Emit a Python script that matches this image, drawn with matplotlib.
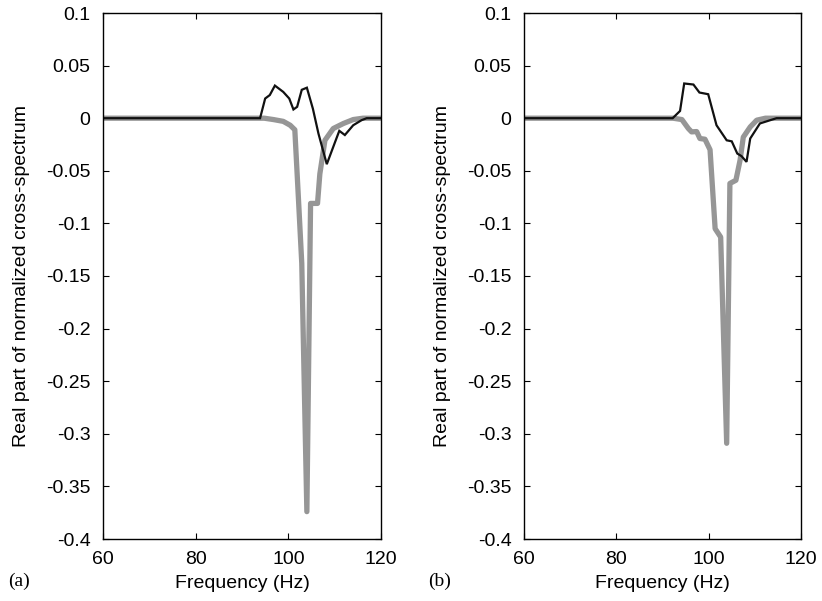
import numpy as np
import matplotlib
matplotlib.use("Agg")
import matplotlib.pyplot as plt

plt.rcParams['font.family'] = ['Liberation Sans', 'DejaVu Sans']

# panel (a)
fa_black = [60, 93.9, 95.0, 96.0, 97.1, 98.9, 100.2, 101.1, 101.9, 102.9, 104.0,
            105.3, 106.5, 108.3, 110.1, 111.0, 112.2, 114.0, 115.8, 116.9, 120]
va_black = [0, 0, 0.0187, 0.022, 0.031, 0.025, 0.0187, 0.0083, 0.0108, 0.027, 0.029,
            0.009, -0.0146, -0.0437, -0.0225, -0.012, -0.016, -0.0067, -0.0019, 0, 0]
fa_gray = [60, 94.8, 96.8, 98.9, 100.4, 101.4, 102.2, 102.9, 104.0,
           104.8, 106.3, 106.8, 107.9, 109.7, 111.9, 114.0, 116.1, 120]
va_gray = [0, 0, -0.0013, -0.003, -0.0067, -0.011, -0.078, -0.138, -0.374,
           -0.081, -0.081, -0.053, -0.021, -0.0098, -0.005, -0.0013, 0, 0]

# panel (b)
fb_black = [60, 92.2, 93.8, 94.7, 96.7, 98.0, 99.9, 101.7, 103.9, 105.0, 106.2,
            107.1, 108.2, 109.0, 111.1, 114.7, 120]
vb_black = [0, 0, 0.0069, 0.033, 0.032, 0.0244, 0.0228, -0.0067, -0.021, -0.022, -0.0336,
            -0.036, -0.0415, -0.0193, -0.005, 0, 0]
fb_gray = [60, 92.3, 94.2, 95.6, 96.3, 97.4, 98.1, 99.2, 100.3, 101.4, 102.6, 103.9,
           104.6, 105.9, 106.8, 107.5, 109.0, 110.4, 112.3, 120]
vb_gray = [0, 0, -0.0013, -0.0098, -0.013, -0.0127, -0.0193, -0.020, -0.030, -0.105, -0.113, -0.309,
           -0.062, -0.059, -0.040, -0.018, -0.0083, -0.0019, 0, 0]

xticks = [60, 80, 100, 120]
yticks = [0.1, 0.05, 0, -0.05, -0.1, -0.15, -0.2, -0.25, -0.3, -0.35, -0.4]
ytick_labels = ['0.1', '0.05', '0', '-0.05', '-0.1', '-0.15', '-0.2', '-0.25', '-0.3', '-0.35', '-0.4']

fig = plt.figure(figsize=(8.22, 6.01), dpi=100)
ax1 = fig.add_axes([103/822, 62/601, 278/822, 526/601])
ax2 = fig.add_axes([524/822, 62/601, 277/822, 526/601])

panels = [(ax1, fa_black, va_black, fa_gray, va_gray, '(a)', 8),
          (ax2, fb_black, vb_black, fb_gray, vb_gray, '(b)', 428)]

fs = 14
for ax, fk, vk, fg, vg, tag, tx in panels:
    ax.plot(fg, vg, color='#969696', lw=3.8, solid_capstyle='round', solid_joinstyle='round')
    ax.plot(fk, vk, color='#111111', lw=1.6, solid_joinstyle='miter')
    ax.set_xlim(60, 120)
    ax.set_ylim(-0.4, 0.1)
    ax.set_xticks(xticks)
    ax.set_yticks(yticks)
    ax.set_yticklabels(ytick_labels)
    ax.tick_params(direction='in', top=True, right=True, length=4, width=0.8,
                   labelsize=fs, pad=9)
    for s in ax.spines.values():
        s.set_linewidth(1.0)
    ax.set_xlabel('Frequency (Hz)', fontsize=fs, va='center')
    ax.set_ylabel('Real part of normalized cross-spectrum', fontsize=fs, va='center')
    ax.xaxis.set_label_coords(0.5, (539 - 583) / 526)
    ax.yaxis.set_label_coords((21 - 103) / 278, 0.5)
    fig.text(tx/822, 1 - 581/601, tag, fontsize=fs, family=['Liberation Serif'],
             va='center', ha='left')

fig.savefig('out.png', dpi=100)
